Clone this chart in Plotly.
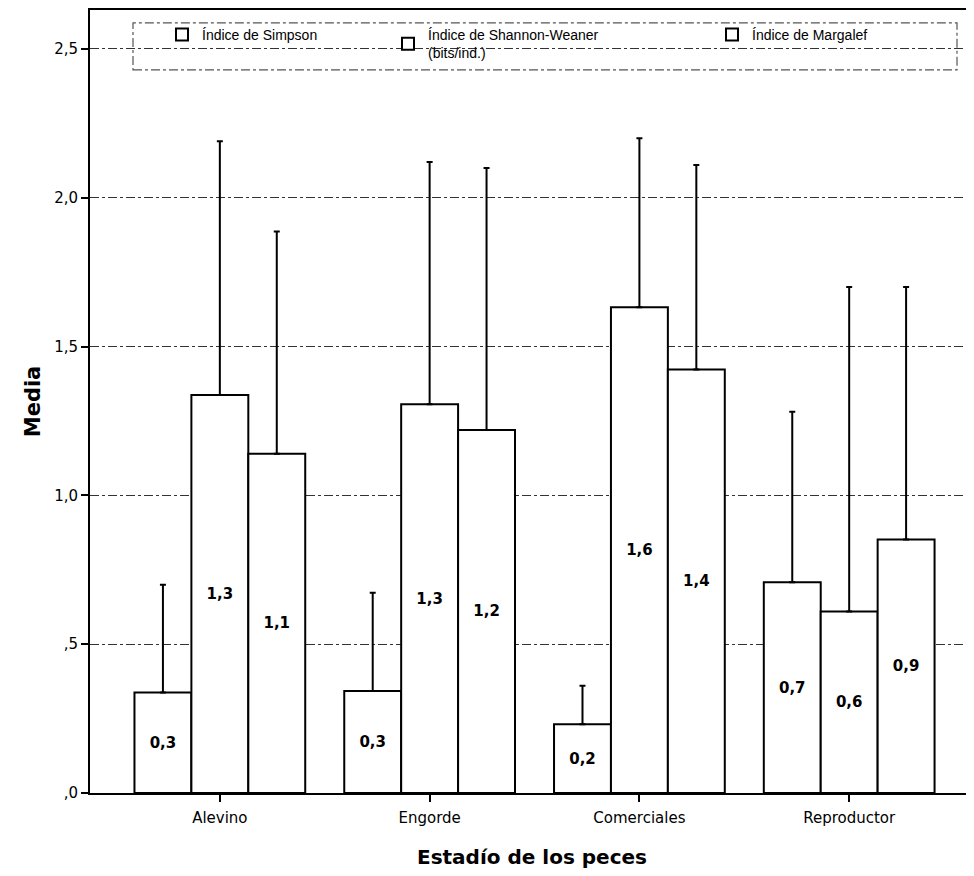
import plotly.graph_objects as go

categorias = ["Alevino", "Engorde", "Comerciales", "Reproductor"]
series = ["Índice de Simpson", "Índice de Shannon-Weaner<br>(bits/ind.)", "Índice de Margalef"]

simpson = [0.338, 0.343, 0.231, 0.708]
shannon = [1.337, 1.306, 1.632, 0.610]
margalef = [1.140, 1.220, 1.423, 0.852]

# upper error (+1 DE)
simpson_err = [0.362, 0.330, 0.129, 0.573]
shannon_err = [0.853, 0.814, 0.568, 1.090]
margalef_err = [0.747, 0.880, 0.687, 0.848]

y_tickvals = [0, 0.5, 1.0, 1.5, 2.0, 2.5]
y_ticktext = [",0", ",5", "1,0", "1,5", "2,0", "2,5"]

FONT = "Liberation Sans, Arial, sans-serif"
WIDE = "DejaVu Sans, sans-serif"

fig = go.Figure()
legends = ["legend", "legend2", "legend3"]
for name, vals, errs, lg in zip(series, [simpson, shannon, margalef],
                                 [simpson_err, shannon_err, margalef_err], legends):
    fig.add_trace(go.Bar(
        x=categorias, y=vals, name=name, legend=lg, showlegend=True,
        marker=dict(color="white", line=dict(color="black", width=2)),
        texttemplate="<b>%{y:.1f}</b>", textposition="inside",
        insidetextanchor="middle", textangle=0,
        textfont=dict(family=WIDE, size=15, color="black"),
        error_y=dict(type="data", symmetric=False, array=errs,
                     arrayminus=[0] * len(errs), color="black",
                     thickness=2, width=3),
    ))

# page is offset by 8px (body margin); compensate
OFF = 8
W, H = 974 - OFF, 876 - OFF
ml, mr, mt, mb = 90 - OFF, 0, 0, 83
pw, ph = W - ml - mr, H - mt - mb

def px_x(p):  # page px -> paper
    return (p - OFF - ml) / pw

def px_y(p):
    return (H - mb - (p - OFF)) / ph

legend_common = dict(orientation="v", xanchor="left", yanchor="top",
                     bgcolor="rgba(0,0,0,0)", borderwidth=0,
                     font=dict(family=FONT, size=14, color="black"),
                     itemwidth=30)

fig.update_layout(
    width=W, height=H,
    margin=dict(l=ml, r=mr, t=mt, b=mb),
    paper_bgcolor="white", plot_bgcolor="white",
    separators=",.",
    showlegend=True,
    barmode="group", bargap=0.186, bargroupgap=0,
    font=dict(family=FONT, size=14, color="black"),
    legend=dict(x=px_x(162), y=px_y(17), **legend_common),
    legend2=dict(x=px_x(388), y=px_y(17), **legend_common),
    legend3=dict(x=px_x(712), y=px_y(17), **legend_common),
    xaxis=dict(
        range=[-0.619, 3.595],
        showline=True, linecolor="black", linewidth=2, mirror=True,
        ticks="outside", ticklen=7, tickwidth=1.5, tickcolor="black",
        ticklabelstandoff=3,
        tickfont=dict(family=WIDE, size=15),
        title=dict(text="<b>Estadío de los peces</b>",
                   font=dict(family=WIDE, size=20), standoff=24),
        showgrid=False,
    ),
    yaxis=dict(
        range=[0, 2.631],
        tickvals=y_tickvals, ticktext=y_ticktext,
        showline=True, linecolor="black", linewidth=2,
        ticks="outside", ticklen=7, tickwidth=1.5, tickcolor="black",
        tickfont=dict(family=WIDE, size=15),
        showgrid=True, gridcolor="#333333", gridwidth=1, griddash="dashdot",
        zeroline=False,
        title=dict(text="<b>Media</b>", font=dict(family=WIDE, size=21),
                   standoff=8),
    ),
    shapes=[dict(type="rect", xref="paper", yref="paper",
                 x0=px_x(133), x1=px_x(957), y0=px_y(68), y1=px_y(21),
                 line=dict(color="#555555", width=1.2, dash="dashdot"),
                 fillcolor="rgba(0,0,0,0)", layer="above")],
)

fig.write_html("out.html")
